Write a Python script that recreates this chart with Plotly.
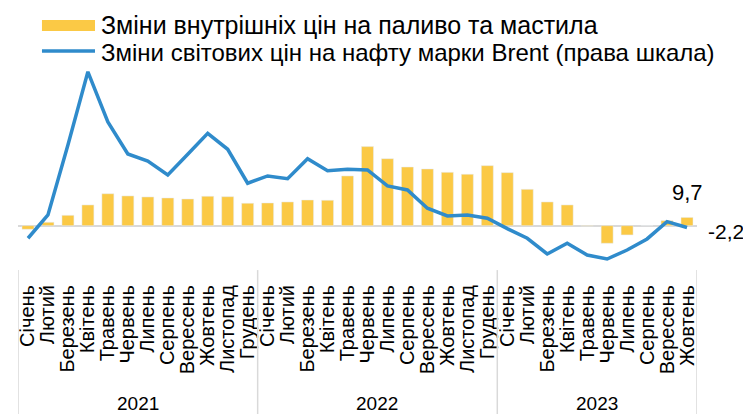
import plotly.graph_objects as go

# ---- data ----
months = ["Січень", "Лютий", "Березень", "Квітень", "Травень", "Червень",
          "Липень", "Серпень", "Вересень", "Жовтень", "Листопад", "Грудень"]
month_labels = months + months + months[:10]
year_labels = ["2021", "2022", "2023"]
year_counts = [12, 12, 10]

fuel_prices = [-4.2, 4.0, 12.2, 24.4, 37.6, 35.0, 33.8, 32.6, 31.4, 34.6, 34.1, 26.4,
               26.7, 27.9, 30.2, 29.9, 58.5, 93.0, 78.8, 69.0, 66.7, 62.8, 60.5, 70.6,
               62.4, 42.8, 27.9, 24.4, -0.5, -20.7, -10.9, 0.2, 5.9, 9.7]
brent_prices = [-14.8, 12.6, 95.0, 181.0, 122.0, 84.4, 76.1, 59.6, 84.0, 108.7, 89.9, 49.9,
                58.5, 55.3, 78.8, 64.7, 66.4, 65.5, 46.7, 42.0, 20.5, 11.4, 12.6, 8.7,
                -3.5, -14.8, -33.3, -20.7, -34.5, -39.2, -28.6, -15.6, 4.7, -2.2]

legend_names = ["Зміни внутрішніх цін на паливо та мастила",
                "Зміни світових цін на нафту марки Brent (права шкала)"]

FONT = "Liberation Sans, Arial, sans-serif"
YELLOW = "#FBC945"
BLUE = "#2F8BCB"
GREY = "#D9D9D9"

x = list(range(len(month_labels)))
y_range = [-63.9, 194.9]

fig = go.Figure()
fig.add_trace(go.Bar(x=x, y=fuel_prices, marker_color=YELLOW, width=0.6,
                     name=legend_names[0], yaxis="y"))
fig.add_trace(go.Scatter(x=x, y=brent_prices, mode="lines",
                         line=dict(color=BLUE, width=3.5),
                         name=legend_names[1], yaxis="y2"))

# year separators and labels
shapes = []
annotations = []
start = 0
bounds = [start - 0.5]
for lab, cnt in zip(year_labels, year_counts):
    annotations.append(dict(x=start + (cnt - 1) / 2, y=-0.562, xref="x", yref="paper",
                            text=lab, showarrow=False, font=dict(size=19, color="black", family=FONT),
                            xanchor="center", yanchor="middle"))
    start += cnt
    bounds.append(start - 0.5)
for b in bounds:
    shapes.append(dict(type="line", xref="x", yref="paper", x0=b, x1=b, y0=0.045, y1=-0.62,
                       line=dict(color=GREY, width=1.5)))

# value labels
annotations.append(dict(x=x[-1], y=fuel_prices[-1], xref="x", yref="y", text="9,7",
                        showarrow=False, yshift=25, font=dict(size=22, color="black", family=FONT),
                        xanchor="center", yanchor="middle"))
annotations.append(dict(x=x[-1], y=brent_prices[-1], xref="x", yref="y2", text="-2,2",
                        showarrow=False, xshift=19, yshift=-4,
                        font=dict(size=21, color="black", family=FONT),
                        xanchor="left", yanchor="middle"))

# manual legend
shapes.append(dict(type="rect", xref="paper", yref="paper", x0=0.0353, x1=0.1134,
                   y0=1.132, y1=1.182, fillcolor=YELLOW, line=dict(width=0)))
shapes.append(dict(type="line", xref="paper", yref="paper", x0=0.0353, x1=0.1134,
                   y0=1.041, y1=1.041, line=dict(color=BLUE, width=3.5)))
annotations.append(dict(x=0.1193, y=1.157, xref="paper", yref="paper", text=legend_names[0],
                        showarrow=False, xanchor="left", yanchor="middle",
                        font=dict(size=25, color="black", family=FONT)))
annotations.append(dict(x=0.1193, y=1.036, xref="paper", yref="paper", text=legend_names[1],
                        showarrow=False, xanchor="left", yanchor="middle",
                        font=dict(size=24, color="black", family=FONT)))

fig.update_layout(
    width=743, height=406,
    margin=dict(l=10, r=54, t=52, b=134, autoexpand=False),
    paper_bgcolor="white", plot_bgcolor="white",
    showlegend=False,
    font=dict(family=FONT, color="black"),
    xaxis=dict(range=[-0.5, len(x) - 0.5], tickmode="array", tickvals=x, ticktext=month_labels,
               tickangle=-90, tickfont=dict(size=20, color="black", family=FONT),
               showgrid=False, zeroline=False, showline=False, ticks=""),
    yaxis=dict(range=y_range, showticklabels=False, showgrid=False, zeroline=True,
               zerolinecolor=GREY, zerolinewidth=2, ticks=""),
    yaxis2=dict(range=y_range, overlaying="y", side="right", visible=False,
                showgrid=False, zeroline=False),
    shapes=shapes,
    annotations=annotations,
)

fig.write_html("out.html")
